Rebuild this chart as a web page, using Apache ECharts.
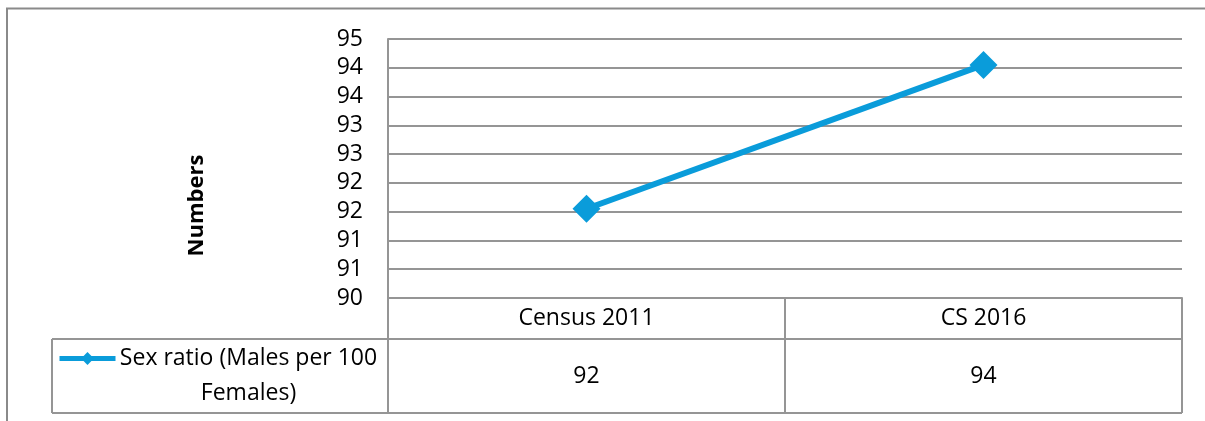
<!DOCTYPE html>
<html>
<head>
<meta charset="utf-8">
<script src="https://cdn.jsdelivr.net/npm/echarts@6/dist/echarts.min.js"></script>
<style>
  html, body { margin: 0; padding: 0; background: #fff; }
  #chart { width: 1205px; height: 421px; }
</style>
</head>
<body>
<div id="chart"></div>
<script>
// Sex ratio by survey
const categories = ['Census 2011', 'CS 2016'];
const seriesName = 'Sex ratio (Males per 100 Females)';
const legendLines = ['Sex ratio (Males per 100', 'Females)'];
const sexRatio = [91.55, 94.05];

// value axis range
const yMin = 90;
const yMax = 94.5;
const yStep = 0.5;

const FONT = '"Open Sans", "Noto Sans", sans-serif';
const GRAY = '#959595';
const BLUE = '#0A9CDA';

// layout
const gridLeft = 388, gridRight = 23, gridTop = 39, gridBottom = 123;
const headRow = 41, valueRow = 74;
const tableLeft = 52;

const W = 1205, H = 421;
const axisY = H - gridBottom;
const plotRight = W - gridRight;

const chart = echarts.init(document.getElementById('chart'), null, { renderer: 'canvas' });

const fmt = v => String(Math.round(v));

chart.setOption({
  animation: false,
  backgroundColor: '#fff',
  textStyle: { fontFamily: FONT },
  grid: { left: gridLeft, right: gridRight, top: gridTop, bottom: gridBottom, containLabel: false },
  legend: {
    left: tableLeft + 5,
    top: axisY + headRow + 25 - 52,
    padding: 0,
    itemWidth: 56,
    itemHeight: 16,
    itemGap: 0,
    data: [seriesName],
    lineStyle: { width: 5 },
    formatter: () => '{a| }\n{a|' + legendLines[0] + '}\n{a|' + legendLines[1] + '}',
    textStyle: {
      fontFamily: FONT,
      color: '#000',
      rich: { a: { fontFamily: FONT, fontSize: 23, lineHeight: 35, width: 256, align: 'center', color: '#000' } }
    }
  },
  xAxis: {
    type: 'category',
    data: categories,
    boundaryGap: true,
    axisLine: { show: true, lineStyle: { color: GRAY, width: 2 } },
    axisTick: { show: true, length: headRow + valueRow, interval: 0, lineStyle: { color: GRAY, width: 2 } },
    axisLabel: {
      margin: 0,
      interval: 0,
      formatter: (value, idx) => '{c|' + value + '}\n{v|' + fmt(sexRatio[idx]) + '}',
      rich: {
        c: { fontFamily: FONT, fontSize: 23, lineHeight: headRow, color: '#000' },
        v: { fontFamily: FONT, fontSize: 23, lineHeight: valueRow, color: '#000' }
      }
    },
    splitLine: { show: false }
  },
  yAxis: {
    type: 'value',
    min: yMin,
    max: yMax,
    interval: yStep,
    name: 'Numbers',
    nameLocation: 'middle',
    nameRotate: 90,
    nameGap: 180,
    nameTextStyle: { fontFamily: FONT, fontSize: 22, fontWeight: 'bold', color: '#000', padding: [0, 74, 0, 0] },
    axisLine: { show: true, lineStyle: { color: GRAY, width: 2 } },
    axisTick: { show: false },
    axisLabel: { margin: 25, fontFamily: FONT, fontSize: 23, color: '#000', formatter: v => fmt(v) },
    splitLine: { show: true, lineStyle: { color: GRAY, width: 2 } }
  },
  series: [{
    name: seriesName,
    type: 'line',
    data: sexRatio,
    symbol: 'diamond',
    symbolSize: 28,
    showAllSymbol: true,
    lineStyle: { color: BLUE, width: 6 },
    itemStyle: { color: BLUE },
    z: 5
  }],
  graphic: [
    // outer chart frame (top and left edges visible)
    { type: 'rect', shape: { x: 7, y: 8.5, width: 1400, height: 600 }, style: { fill: null, stroke: '#8a8a8a', lineWidth: 2 }, silent: true, z: -1 },
    // data table rules
    { type: 'line', shape: { x1: tableLeft, y1: axisY + headRow, x2: plotRight, y2: axisY + headRow }, style: { stroke: GRAY, lineWidth: 2 }, silent: true },
    { type: 'line', shape: { x1: tableLeft, y1: axisY + headRow + valueRow, x2: plotRight, y2: axisY + headRow + valueRow }, style: { stroke: GRAY, lineWidth: 2 }, silent: true },
    { type: 'line', shape: { x1: tableLeft, y1: axisY + headRow, x2: tableLeft, y2: axisY + headRow + valueRow }, style: { stroke: GRAY, lineWidth: 2 }, silent: true }
  ]
});
</script>
</body>
</html>
